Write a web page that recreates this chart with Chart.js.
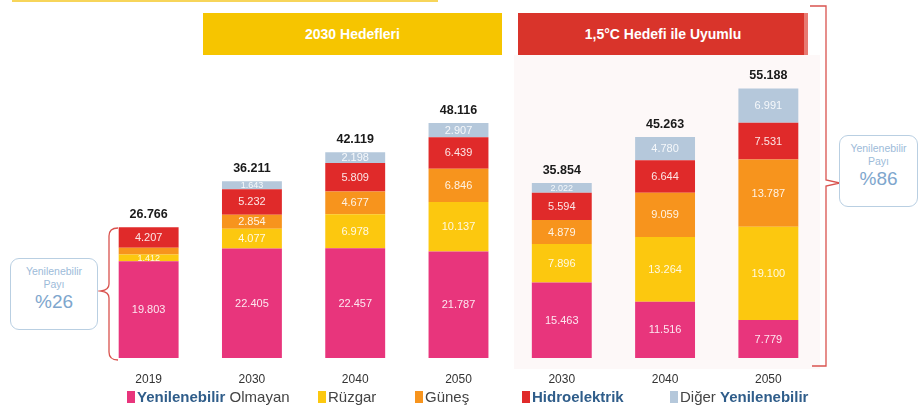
<!DOCTYPE html>
<html><head><meta charset="utf-8">
<script src="https://cdn.jsdelivr.net/npm/chart.js@4/dist/chart.umd.min.js"></script>
<style>
html,body{margin:0;padding:0;background:#fff;font-family:"Liberation Sans",Arial,sans-serif;}
#wrap{position:relative;width:922px;height:414px;overflow:hidden;}
#c{position:absolute;left:0;top:0;}
.hdr{position:absolute;top:13px;height:42px;color:#fff;font-weight:bold;font-size:14px;display:flex;align-items:center;justify-content:center;}
.box{position:absolute;border:1.5px solid #b9cfe2;border-radius:9px;text-align:center;color:#9dbbd9;background:#fff;}
.box .s{font-size:10.5px;line-height:13px;}
.box .b{font-size:19px;line-height:21px;color:#7ea6cd;}
#legend{position:absolute;top:388px;left:0;width:922px;height:20px;font-size:15px;color:#444;}
#legend span.it{position:absolute;top:0;white-space:nowrap;}
#legend i{display:inline-block;width:8px;height:12px;margin-right:2px;vertical-align:-1px;}
.bl{color:#2f5d8a;font-weight:600;}
</style></head>
<body>
<div id="wrap">
<canvas id="c" width="922" height="414"></canvas>
<div style="position:absolute;left:12px;top:0;width:426px;height:2px;background:#f7d55a;"></div>
<div class="hdr" style="left:203px;width:299px;background:#f6c500;">2030 Hedefleri</div>
<div class="hdr" style="left:518px;width:290px;background:#d9342b;box-shadow:inset -4px 0 0 #e87a72;">1,5°C Hedefi ile Uyumlu</div>
<div class="box" style="left:10px;top:258px;width:86px;height:70px;"><div class="s" style="margin-top:6px">Yenilenebilir</div><div class="s">Payı</div><div class="b">%26</div></div>
<div class="box" style="left:839px;top:135px;width:77px;height:70px;"><div class="s" style="margin-top:6px">Yenilenebilir</div><div class="s">Payı</div><div class="b">%86</div></div>
<div id="legend">
<span class="it" style="left:127px"><i style="background:#e8357c"></i><span class="bl">Yenilenebilir</span> Olmayan</span>
<span class="it" style="left:318px"><i style="background:#fcc80f"></i>Rüzgar</span>
<span class="it" style="left:415px"><i style="background:#f7941d"></i>Güneş</span>
<span class="it" style="left:522px"><i style="background:#e02a2a"></i><span class="bl">Hidroelektrik</span></span>
<span class="it" style="left:670px"><i style="background:#b5c8db"></i>Diğer <span class="bl">Yenilenebilir</span></span>
</div>
</div>
<script>
const categories = ['2019','2030','2040','2050','2030','2040','2050'];
const nonRenewable = [19.803, 22.405, 22.457, 21.787, 15.463, 11.516, 7.779];
const wind = [1.412, 4.077, 6.978, 10.137, 7.896, 13.264, 19.100];
const solar = [1.344, 2.854, 4.677, 6.846, 4.879, 9.059, 13.787];
const hydro = [4.207, 5.232, 5.809, 6.439, 5.594, 6.644, 7.531];
const otherRenewable = [0, 1.643, 2.198, 2.907, 2.022, 4.780, 6.991];
const totals = [26.766, 36.211, 42.119, 48.116, 35.854, 45.263, 55.188];
const seriesNames = ['Yenilenebilir Olmayan','Rüzgar','Güneş','Hidroelektrik','Diğer Yenilenebilir'];

const colors = ['#e8357c','#fcc80f','#f7941d','#e02a2a','#b5c8db'];
const seriesData = [nonRenewable, wind, solar, hydro, otherRenewable];

const decor = {
  id:'decor',
  beforeDraw(chart){
    const ctx = chart.ctx;
    ctx.save();
    ctx.fillStyle = '#fdf8f8';
    ctx.fillRect(514, 55, 306, 314);
    ctx.strokeStyle = '#d9534f';
    ctx.lineWidth = 1.3;
    ctx.beginPath();
    ctx.moveTo(810, 6); ctx.lineTo(826, 6); ctx.lineTo(826, 180);
    ctx.lineTo(840, 183); ctx.lineTo(826, 186); ctx.lineTo(826, 366); ctx.lineTo(812, 366);
    ctx.stroke();
    ctx.beginPath();
    ctx.moveTo(118, 228); ctx.quadraticCurveTo(109, 228, 109, 236);
    ctx.lineTo(109, 284); ctx.quadraticCurveTo(109, 290, 101, 291);
    ctx.quadraticCurveTo(109, 292, 109, 298);
    ctx.lineTo(109, 352); ctx.quadraticCurveTo(109, 360, 118, 360);
    ctx.stroke();
    ctx.restore();
  },
  afterDatasetsDraw(chart){
    const ctx = chart.ctx;
    ctx.save();
    ctx.textAlign = 'center';
    ctx.textBaseline = 'middle';
    chart.data.datasets.forEach((ds, di) => {
      const meta = chart.getDatasetMeta(di);
      meta.data.forEach((el, i) => {
        const v = ds.data[i];
        if (!v || v < 1.4) return;
        const h = Math.abs(el.base - el.y);
        ctx.font = (h < 10 ? '9px' : '11px') + ' "Liberation Sans", Arial, sans-serif';
        ctx.fillStyle = 'rgba(255,255,255,0.88)';
        ctx.fillText(v.toFixed(3), el.x, (el.y + el.base) / 2 + 0.5);
      });
    });
    const last = chart.getDatasetMeta(chart.data.datasets.length - 1);
    ctx.font = 'bold 12.5px "Liberation Sans", Arial, sans-serif';
    ctx.fillStyle = '#1a1a1a';
    ctx.textBaseline = 'alphabetic';
    last.data.forEach((el, i) => {
      ctx.fillText(totals[i].toFixed(3), el.x, el.y - 9);
    });
    ctx.restore();
  }
};

new Chart(document.getElementById('c'), {
  type: 'bar',
  data: {
    labels: categories,
    datasets: seriesNames.map((n, k) => ({
      label: n, data: seriesData[k], backgroundColor: colors[k], borderWidth: 0,
      barPercentage: 0.725, categoryPercentage: 0.8
    }))
  },
  options: {
    responsive: false, animation: false,
    layout: { padding: { left: 97, right: 102, top: 65, bottom: 26 } },
    plugins: { legend: { display: false }, tooltip: { enabled: false } },
    scales: {
      x: { stacked: true, grid: { display: false }, border: { display: false },
           ticks: { color: '#333', font: { size: 12, family: '"Liberation Sans", Arial, sans-serif' }, padding: 6 },
           afterFit(s){ s.height = 30; } },
      y: { stacked: true, display: false, min: 0, max: 60 }
    }
  },
  plugins: [decor]
});
</script>
</body></html>
